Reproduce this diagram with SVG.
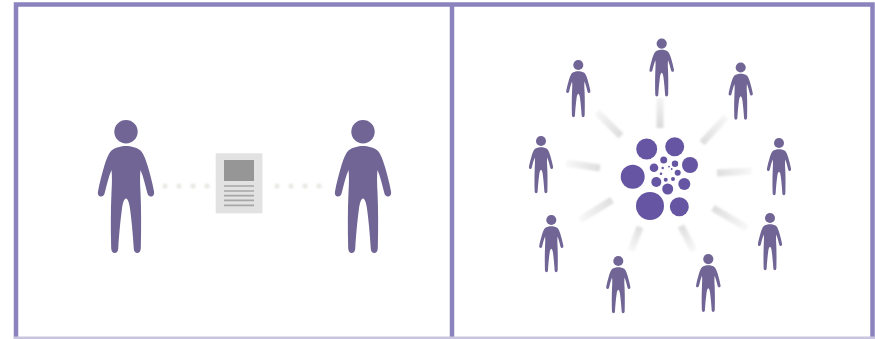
<svg xmlns="http://www.w3.org/2000/svg" width="875" height="339" viewBox="0 0 875 339">
<style>
.frame{fill:none;stroke:#8b83bd;stroke-width:4.5}
.p{fill:#6f6595}
.hub{fill:#6655a2}
.dot{fill:#e6e6e2}
.spoke{stroke-width:7;fill:none}
.ln{stroke:#a6a6a6;stroke-width:1.7}
</style>
<defs>
<filter id="soft" x="-20%" y="-20%" width="140%" height="140%"><feGaussianBlur stdDeviation="0.5"/></filter>
<filter id="softer" x="-30%" y="-30%" width="160%" height="160%"><feGaussianBlur stdDeviation="1"/></filter>
<symbol id="person" overflow="visible">
<circle cx="0" cy="11.700" r="11.700"/>
<path d="M0 26C5 26 11 27.500 14.500 30.500C17.500 33.500 20 40 22 47C24 54 26.500 63 28 71.500C28.600 75 27 76.500 25 76.500C23 76.500 21.800 75 21.300 73C19.500 66 17.500 57 14.500 50C13.800 56 14 64 14.500 72C15.300 90 15.300 108 14.800 128.500C14.600 131.500 13 133 11.300 133C9.500 133 8 131.500 7.800 129C7 115 5.500 100 4.200 90C3.500 84 2 78.500 0 78.500C-2 78.500 -3.500 84 -4.200 90C-5.500 100 -7 115 -7.800 129C-8 131.500 -9.500 133 -11.300 133C-13 133 -14.600 131.500 -14.800 128.500C-15.300 108 -15.300 90 -14.500 72C-14 64 -13.800 56 -14.500 50C-17.500 57 -19.500 66 -21.300 73C-21.800 75 -23 76.500 -25 76.500C-27 76.500 -28.600 75 -28 71.500C-26.500 63 -24 54 -22 47C-20 40 -17.500 33.500 -14.500 30.500C-11 27.500 -5 26 0 26Z"/>
</symbol>
<linearGradient id="g1" gradientUnits="userSpaceOnUse" x1="660" y1="128" x2="660" y2="98"><stop offset="0" stop-color="#dadada"/><stop offset="1" stop-color="#f4f4f4"/></linearGradient>
<linearGradient id="g2" gradientUnits="userSpaceOnUse" x1="702" y1="143" x2="726" y2="117"><stop offset="0" stop-color="#dedede"/><stop offset="1" stop-color="#f6f6f6"/></linearGradient>
<linearGradient id="g3" gradientUnits="userSpaceOnUse" x1="621" y1="136" x2="597" y2="112"><stop offset="0" stop-color="#dedede"/><stop offset="1" stop-color="#f6f6f6"/></linearGradient>
<linearGradient id="g4" gradientUnits="userSpaceOnUse" x1="717" y1="173" x2="752" y2="171"><stop offset="0" stop-color="#dedede"/><stop offset="1" stop-color="#f8f8f8"/></linearGradient>
<linearGradient id="g5" gradientUnits="userSpaceOnUse" x1="600" y1="168" x2="566" y2="163"><stop offset="0" stop-color="#dedede"/><stop offset="1" stop-color="#f8f8f8"/></linearGradient>
<linearGradient id="g6" gradientUnits="userSpaceOnUse" x1="713" y1="208" x2="747" y2="228"><stop offset="0" stop-color="#dedede"/><stop offset="1" stop-color="#f8f8f8"/></linearGradient>
<linearGradient id="g7" gradientUnits="userSpaceOnUse" x1="612" y1="200" x2="580" y2="220"><stop offset="0" stop-color="#dedede"/><stop offset="1" stop-color="#f8f8f8"/></linearGradient>
<linearGradient id="g8" gradientUnits="userSpaceOnUse" x1="640" y1="227" x2="631" y2="251"><stop offset="0" stop-color="#dedede"/><stop offset="1" stop-color="#f8f8f8"/></linearGradient>
<linearGradient id="g9" gradientUnits="userSpaceOnUse" x1="681" y1="226" x2="694" y2="251"><stop offset="0" stop-color="#dedede"/><stop offset="1" stop-color="#f8f8f8"/></linearGradient>
</defs>
<rect width="875" height="339" fill="#fff"/>
<g id="frame" filter="url(#soft)">
<path class="frame" d="M16 339V4.500H872.500V339M452 4V339"/>
<path d="M14 337.800H875" stroke="#c9c5e0" stroke-width="2.400" fill="none"/>
</g>
<g id="connectors" filter="url(#softer)">
<circle class="dot" cx="165" cy="186" r="2.500"/><circle class="dot" cx="179" cy="186" r="2.500"/><circle class="dot" cx="193" cy="186" r="2.500"/><circle class="dot" cx="207" cy="186" r="2.500"/>
<circle class="dot" cx="277" cy="186" r="2.500"/><circle class="dot" cx="291" cy="186" r="2.500"/><circle class="dot" cx="305" cy="186" r="2.500"/><circle class="dot" cx="319" cy="186" r="2.500"/>
<path class="spoke" stroke="url(#g1)" d="M660 128V98"/>
<path class="spoke" stroke="url(#g2)" d="M702 143L726 117"/>
<path class="spoke" stroke="url(#g3)" d="M621 136L597 112"/>
<path class="spoke" stroke="url(#g4)" d="M717 173L752 171"/>
<path class="spoke" stroke="url(#g5)" d="M600 168L566 163"/>
<path class="spoke" stroke="url(#g6)" d="M713 208L747 228"/>
<path class="spoke" stroke="url(#g7)" d="M612 200L580 220"/>
<path class="spoke" stroke="url(#g8)" d="M640 227L631 251"/>
<path class="spoke" stroke="url(#g9)" d="M681 226L694 251"/>
</g>
<g id="person-left" class="p" filter="url(#soft)"><use href="#person" transform="translate(126 120)"/></g>
<g id="person-right" class="p" filter="url(#soft)"><use href="#person" transform="translate(363 120)"/></g>
<g id="document" filter="url(#soft)">
<rect x="215.700" y="153.300" width="46.700" height="60" fill="#e2e2e2"/>
<rect x="224" y="160" width="30" height="21" fill="#969696"/>
<path class="ln" d="M224 186H254M224 191H254M224 195.700H254M224 200.300H254M224 205.300H254"/>
</g>
<g id="hub" class="hub" filter="url(#soft)">
<circle cx="646.700" cy="149" r="10.500"/><circle cx="674.700" cy="146.700" r="9.500"/><circle cx="690" cy="165" r="8"/><circle cx="632.700" cy="176.700" r="12"/><circle cx="650" cy="206" r="14"/><circle cx="679.300" cy="206.700" r="9.500"/><circle cx="684.300" cy="184" r="6"/><circle cx="667.700" cy="189" r="5.500"/><circle cx="656.300" cy="182" r="5"/><circle cx="654" cy="167.700" r="4.300"/><circle cx="663.700" cy="160" r="3.500"/><circle cx="675" cy="163.700" r="3.200"/><circle cx="677.700" cy="172.700" r="3"/><circle cx="673" cy="179" r="2"/><circle cx="665.700" cy="179.700" r="2"/><circle cx="661" cy="173.700" r="1.300"/><circle cx="662.700" cy="168" r="1.200"/><circle cx="669" cy="166.700" r="0.900"/><circle cx="671.700" cy="169" r="0.900"/>
</g>
<g id="person-1" class="p" filter="url(#soft)"><use href="#person" transform="translate(661.700 38.500) scale(0.436)"/></g>
<g id="person-2" class="p" filter="url(#soft)"><use href="#person" transform="translate(740.700 62.500) scale(0.43)"/></g>
<g id="person-3" class="p" filter="url(#soft)"><use href="#person" transform="translate(779 138) scale(0.43)"/></g>
<g id="person-4" class="p" filter="url(#soft)"><use href="#person" transform="translate(770 213) scale(0.43)"/></g>
<g id="person-5" class="p" filter="url(#soft)"><use href="#person" transform="translate(708.300 254) scale(0.436)"/></g>
<g id="person-6" class="p" filter="url(#soft)"><use href="#person" transform="translate(618.300 256) scale(0.43)"/></g>
<g id="person-7" class="p" filter="url(#soft)"><use href="#person" transform="translate(551.300 215) scale(0.43)"/></g>
<g id="person-8" class="p" filter="url(#soft)"><use href="#person" transform="translate(541 136) scale(0.43)"/></g>
<g id="person-9" class="p" filter="url(#soft)"><use href="#person" transform="translate(578.300 60) scale(0.43)"/></g>
</svg>
